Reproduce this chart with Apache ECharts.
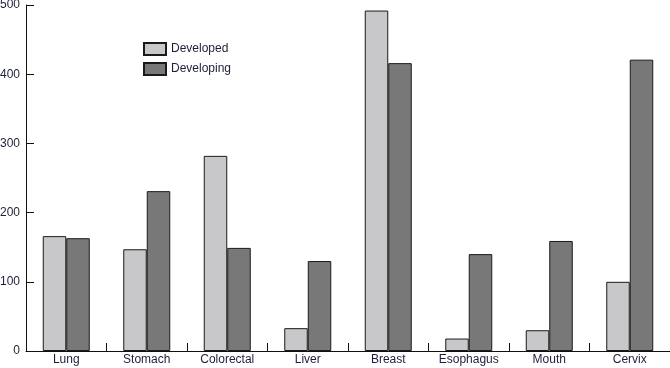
<!DOCTYPE html>
<html>
<head>
<meta charset="utf-8">
<script src="https://cdn.jsdelivr.net/npm/echarts@6/dist/echarts.min.js"></script>
<style>html,body{margin:0;padding:0;background:#fff}#c{width:670px;height:368px}</style>
</head>
<body>
<div id="c"></div>
<script>
var categories = ['Lung','Stomach','Colorectal','Liver','Breast','Esophagus','Mouth','Cervix'];
var developed = [166, 147, 282, 33, 492, 18, 30, 100];
var developing = [163, 231, 149, 130, 416, 140, 159, 421];
var seriesNames = ['Developed','Developing'];

var chart = echarts.init(document.getElementById('c'), null, {renderer:'canvas'});
var font = 'Liberation Sans, Arial, Helvetica, sans-serif';
chart.setOption({
  animation: false,
  backgroundColor: '#fff',
  grid: {left: 26, right: 0, top: 5, bottom: 17, containLabel: false, outerBoundsMode: 'none'},
  legend: {
    orient: 'vertical', left: 138, top: 37, itemWidth: 22, itemHeight: 12, itemGap: 6,
    icon: 'rect',
    textStyle: {fontFamily: font, fontSize: 12, color: '#1c1f3a'},
    data: seriesNames
  },
  xAxis: {
    type: 'category', data: categories,
    axisLine: {lineStyle: {color: '#111', width: 1}},
    axisTick: {show: true, inside: true, length: 8, alignWithLabel: false, lineStyle: {color: '#111'}},
    axisLabel: {fontFamily: font, fontSize: 12, color: '#1c1f3a', margin: 3}
  },
  yAxis: {
    type: 'value', min: 0, max: 500, interval: 100,
    axisLine: {show: true, lineStyle: {color: '#111', width: 1}},
    axisTick: {show: true, inside: true, length: 8, lineStyle: {color: '#111'}},
    splitLine: {show: false},
    axisLabel: {fontFamily: font, fontSize: 12, color: '#1c1f3a', margin: 6}
  },
  series: [
    {name: seriesNames[0], type: 'bar', data: developed, barWidth: 23.5, barGap: '0%',
     itemStyle: {color: '#c8c8ca', borderColor: '#1a1a1a', borderWidth: 1}},
    {name: seriesNames[1], type: 'bar', data: developing, barWidth: 23.5, barGap: '0%',
     itemStyle: {color: '#787879', borderColor: '#1a1a1a', borderWidth: 1}}
  ]
});
</script>
</body>
</html>
